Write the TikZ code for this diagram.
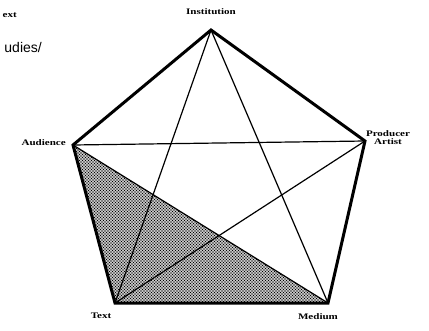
\documentclass[tikz,border=0pt]{standalone}
\usepackage{fontspec}
\usetikzlibrary{patterns}
\newfontfamily\labfont{Liberation Serif}
\newfontfamily\sansfont{Liberation Sans}
\newcommand{\lab}[1]{\scalebox{1.3}[1]{\labfont\bfseries #1}}
\pgfdeclarepatternformonly{coarsedots}{\pgfqpoint{-1pt}{-1pt}}{\pgfqpoint{4pt}{4pt}}{\pgfqpoint{3pt}{3pt}}%
{\pgfpathcircle{\pgfqpoint{0pt}{0pt}}{0.9pt}\pgfpathcircle{\pgfqpoint{1.5pt}{1.5pt}}{0.9pt}\pgfusepath{fill}}
\begin{document}
\begin{tikzpicture}[x=1pt,y=-1pt,
  side/.style={line width=3pt,line join=miter},
  diag/.style={line width=1.2pt},
  lbl/.style={font=\fontsize{8.5}{9}\selectfont,inner sep=0pt,align=center}]
\useasboundingbox (0,0) rectangle (429,330);
\coordinate (I) at (211,30);
\coordinate (P) at (365,141);
\coordinate (M) at (328,303);
\coordinate (T) at (115,303);
\coordinate (A) at (73,145);
% shaded triangle
\fill[pattern=coarsedots,pattern color=black] (A) -- (T) -- (M) -- cycle;
% diagonals
\draw[diag] (A) -- (P);
\draw[diag] (A) -- (M);
\draw[diag] (I) -- (T);
\draw[diag] (I) -- (M);
\draw[diag] (P) -- (T);
% pentagon
\draw[side] (I) -- (P) -- (M) -- (T) -- (A) -- cycle;
% labels
\node[lbl] (li) at (211,12) {\lab{Institution}};
\node[lbl,anchor=east] (la) at (66,143) {\lab{Audience}};
\node[lbl] (lp) at (388,138) {\lab{Producer}\\[-1pt]\lab{Artist}};
\node[lbl] (lt) at (101,316) {\lab{Text}};
\node[lbl] (lm) at (318,317) {\lab{Medium}};
\node[lbl,anchor=east] (le) at (17,15) {\lab{ext}};
\node[inner sep=0pt,anchor=east,font=\sansfont\fontsize{14}{15}\selectfont] (lu) at (42,47) {udies/};
\end{tikzpicture}
\end{document}
